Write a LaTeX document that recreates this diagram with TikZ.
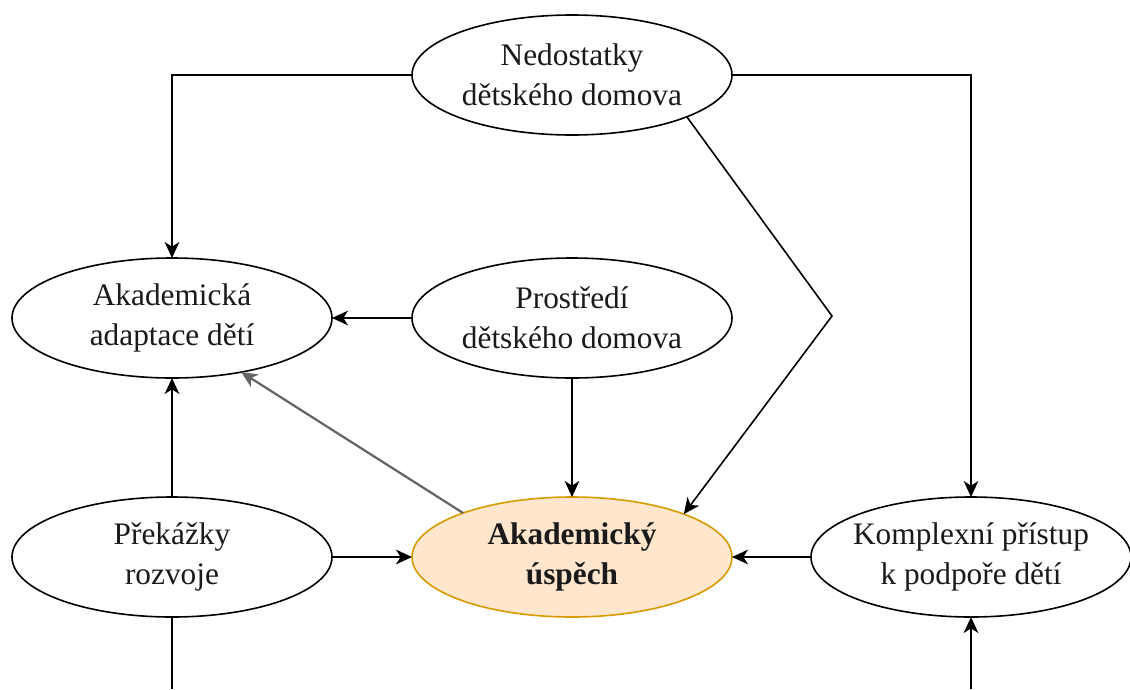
\documentclass[tikz,border=0pt]{standalone}
\usepackage{fontspec}
\setmainfont{Liberation Serif}
\usetikzlibrary{shapes.geometric,arrows.meta}
\definecolor{accfill}{HTML}{FFE6CC}
\definecolor{accline}{HTML}{D79B00}
\definecolor{txt}{HTML}{1A1A1A}
\definecolor{grayline}{HTML}{666666}
\tikzset{
  ell/.style={ellipse, draw=black, line width=1.2pt, fill=white, minimum width=240pt, minimum height=90pt, inner sep=0pt, outer sep=0pt},
  accent/.style={ell, draw=accline, fill=accfill},
  lbl/.style={align=center, text=txt, font=\fontsize{23.5}{30}\selectfont, inner sep=0pt},
  conn/.style={line width=1.2pt, draw=black, -{Stealth[length=12pt,width=11pt,inset=3.5pt]}},
  plain/.style={line width=1.2pt, draw=black}
}
\begin{document}
\begin{tikzpicture}[x=0.75pt,y=-0.75pt]
\useasboundingbox (0,0) rectangle (1130,689);
% ellipses
\node[ell] (ned) at (572,75) {};
\node[ell] (ada) at (172,318) {};
\node[ell] (pro) at (572,318) {};
\node[ell] (pre) at (172,557) {};
\node[accent] (usp) at (572,557) {};
\node[ell] (kom) at (971,557) {};
% texts
\node[lbl] (tned) at (ned) {Nedostatky\\dětského domova};
\node[lbl] (tada) at (ada) {Akademická\\adaptace dětí};
\node[lbl] (tpro) at (pro) {Prostředí\\dětského domova};
\node[lbl] (tpre) at (pre) {Překážky\\rozvoje};
\node[lbl, font=\fontsize{23.5}{30}\selectfont\bfseries] (tusp) at (usp) {Akademický\\úspěch};
\node[lbl] (tkom) at (kom) {Komplexní přístup\\k podpoře dětí};
% helper coordinates
\coordinate (bend) at (832,316);
\coordinate (preend) at (172,689);
\coordinate (komstart) at (971,689);
% connectors
\draw[conn] (ned.west) -| (ada.north);
\draw[conn] (ned.east) -| (kom.north);
\draw[conn] (ned.-20.5) -- (bend) -- (usp.21);
\draw[conn] (pro.west) -- (ada.east);
\draw[conn] (pro.south) -- (usp.north);
\draw[conn, draw=grayline, line width=1.7pt] (usp.158.6) -- (ada.-38);
\draw[conn] (pre.north) -- (ada.south);
\draw[conn] (pre.east) -- (usp.west);
\draw[conn] (kom.west) -- (usp.east);
\draw[plain] (pre.south) -- (preend);
\draw[conn] (komstart) -- (kom.south);
\end{tikzpicture}
\end{document}
